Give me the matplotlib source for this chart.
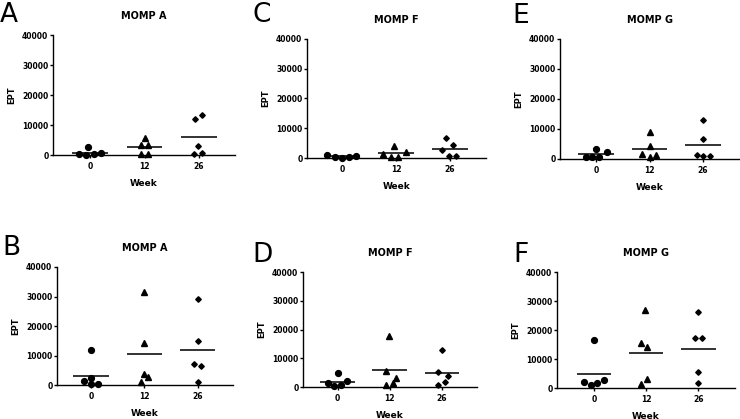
import matplotlib
matplotlib.use('Agg')
import matplotlib.pyplot as plt
import numpy as np

plt.rcParams['font.family'] = 'DejaVu Sans'

WEEK_LABELS = ['0', '12', '26']
PANEL_LETTERS = ['A', 'C', 'E', 'B', 'D', 'F']
PANEL_TITLES = ['MOMP A', 'MOMP F', 'MOMP G', 'MOMP A', 'MOMP F', 'MOMP G']
Y_TICKS = [0, 10000, 20000, 30000, 40000]

# EPT values per week group (0, 12, 26), and the horizontal scatter of the points
a_vals = [[200, 0, 2700, 200, 800], [5700, 3200, 3200, 400, 400], [11900, 13400, 3100, 250, 600]]
a_jit = [[-0.20, -0.07, -0.03, 0.07, 0.20], [0, -0.07, 0.06, -0.07, 0.06], [-0.08, 0.05, -0.01, -0.09, 0.055]]

c_vals = [[1100, 450, 50, 450, 700], [4000, 1500, 2000, 250, 500], [6700, 4300, 2700, 600, 700]]
c_jit = [[-0.28, -0.13, 0, 0.13, 0.26], [-0.04, -0.24, 0.18, -0.09, 0.03], [-0.08, 0.06, -0.14, -0.01, 0.11]]

e_vals = [[800, 550, 800, 3350, 2450], [8900, 4250, 1650, 550, 1350], [13100, 6600, 1450, 900, 1100]]
e_jit = [[-0.19, -0.07, 0.06, 0, 0.2], [0, 0, -0.14, 0, 0.13], [0, 0, -0.12, 0, 0.135]]

b_vals = [[11700, 2250, 1250, 200, 200], [31500, 14150, 900, 3750, 2800], [29250, 14950, 7000, 6450, 1100]]
b_jit = [[0, 0, -0.13, 0, 0.14], [0, 0, -0.06, 0, 0.075], [0, 0, -0.075, 0.07, 0]]

d_vals = [[4700, 1300, 500, 800, 2100], [17800, 5650, 3250, 800, 1250], [12700, 5200, 3700, 800, 1600]]
d_jit = [[0, -0.19, -0.06, 0.07, 0.19], [-0.01, -0.075, 0.125, -0.075, 0.06], [0, -0.075, 0.125, -0.075, 0.05]]

f_vals = [[16650, 2050, 1150, 1850, 2900], [27000, 15600, 14100, 1250, 3100], [26050, 17200, 17200, 5500, 1700]]
f_jit = [[0, -0.2, -0.06, 0.06, 0.19], [-0.03, -0.1, 0.02, -0.1, 0.02], [0, -0.06, 0.07, 0, 0]]

ALL_VALS = [a_vals, c_vals, e_vals, b_vals, d_vals, f_vals]
ALL_JIT = [a_jit, c_jit, e_jit, b_jit, d_jit, f_jit]

# layout in pixels: left, right, top, bottom, x of first tick, px per category
LAYOUT = [
    (53, 235, 35, 155, 90, 54.5),
    (307, 486, 39, 158, 342, 54),
    (560, 740, 39, 159, 596, 53.5),
    (57, 233, 267, 385, 91, 53.3),
    (303, 477, 272, 387, 337.5, 52.2),
    (557, 735, 272, 388, 594, 52.2),
]
LETTER_POS = [(0, 22), (252, 22), (512, 23), (2, 255), (252, 262), (513, 262)]

MARKERS = [('o', 4.2), ('^', 4.2), ('D', 2.8)]

W, H, DPI = 740, 419, 100
PX = 72 / DPI  # points per pixel


def draw_panel(fig, i):
    left, right, top, bottom, tick0, unit = LAYOUT[i]
    ax = fig.add_axes([left / W, 1 - bottom / H, (right - left) / W, (bottom - top) / H])
    ax.set_xlim((left - tick0) / unit, (right - tick0) / unit)
    ax.set_ylim(0, 40000)

    for g, (vals, jit) in enumerate(zip(ALL_VALS[i], ALL_JIT[i])):
        marker, ms = MARKERS[g]
        ax.plot(np.array(jit) + g, vals, linestyle='none', marker=marker,
                markersize=ms, color='black', clip_on=False, zorder=3)
        ax.hlines(np.mean(vals), g - 0.33, g + 0.33, color='#111111', linewidth=1.2, zorder=2)

    for side in ('top', 'right'):
        ax.spines[side].set_visible(False)
    for side in ('left', 'bottom'):
        ax.spines[side].set_linewidth(1.0)

    ax.set_xticks(range(len(WEEK_LABELS)))
    ax.set_xticklabels(WEEK_LABELS)
    ax.set_yticks(Y_TICKS)
    ax.set_yticklabels([str(t) for t in Y_TICKS])
    ax.tick_params(axis='both', length=2.3, width=1.0, labelsize=5.5, pad=1)
    ax.tick_params(axis='x', pad=2.5)
    for lab in ax.get_xticklabels() + ax.get_yticklabels():
        lab.set_fontweight('bold')

    ax.annotate(PANEL_TITLES[i], xy=(0.5, 1), xycoords='axes fraction',
                xytext=(0, 19 * PX), textcoords='offset points',
                ha='center', va='center', fontsize=7, fontweight='bold')
    ax.annotate('Week', xy=(0.5, 0), xycoords='axes fraction',
                xytext=(0, -28 * PX), textcoords='offset points',
                ha='center', va='center', fontsize=6.5, fontweight='bold')
    ax.annotate('EPT', xy=(0, 0.5), xycoords='axes fraction',
                xytext=(-41 * PX, 0), textcoords='offset points',
                ha='center', va='center', rotation=90, fontsize=6, fontweight='bold')

    lx, ly = LETTER_POS[i]
    fig.text(lx / W, 1 - ly / H, PANEL_LETTERS[i], ha='left', va='baseline', fontsize=19)


fig = plt.figure(figsize=(W / DPI, H / DPI), dpi=DPI)
for i in range(len(PANEL_LETTERS)):
    draw_panel(fig, i)

fig.savefig('out.png', dpi=DPI)
